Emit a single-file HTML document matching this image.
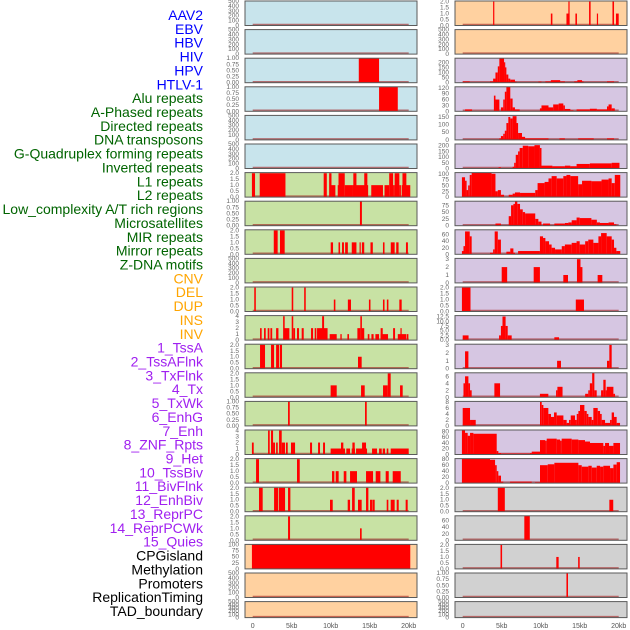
<!DOCTYPE html>
<html><head><meta charset="utf-8">
<style>
html,body{margin:0;padding:0;background:#fff;}
svg{display:block;font-family:"Liberation Sans",sans-serif;}
</style></head>
<body>
<svg id="chart" width="630" height="630" viewBox="0 0 630 630" xmlns="http://www.w3.org/2000/svg"></svg>
<script>
const labels = ["AAV2","EBV","HBV","HIV","HPV","HTLV-1","Alu repeats","A-Phased repeats","Directed repeats","DNA transposons","G-Quadruplex forming repeats","Inverted repeats","L1 repeats","L2 repeats","Low_complexity A/T rich regions","Microsatellites","MIR repeats","Mirror repeats","Z-DNA motifs","CNV","DEL","DUP","INS","INV","1_TssA","2_TssAFlnk","3_TxFlnk","4_Tx","5_TxWk","6_EnhG","7_Enh","8_ZNF_Rpts","9_Het","10_TssBiv","11_BivFlnk","12_EnhBiv","13_ReprPC","14_ReprPCWk","15_Quies","CPGisland","Methylation","Promoters","ReplicationTiming","TAD_boundary"];
const groups = ["virus","virus","virus","virus","virus","virus","repeat","repeat","repeat","repeat","repeat","repeat","repeat","repeat","repeat","repeat","repeat","repeat","repeat","sv","sv","sv","sv","sv","state","state","state","state","state","state","state","state","state","state","state","state","state","state","state","genomic","genomic","genomic","genomic","genomic"];
const xTicks = [0,5,10,15,20];
const xTickLabels = ["0","5kb","10kb","15kb","20kb"];
const T500=[0,100,200,300,400,500], T2=[0,0.5,1,1.5,2], T1=[0,0.25,0.5,0.75,1];
const T2L=["0.0","0.5","1.0","1.5","2.0"], T1L=["0.00","0.25","0.50","0.75","1.00"];
const yMax = [500,500,1,1,500,500,2.05,1,2.05,500,2.05,4.1,2.05,2.05,1,4.1,2.05,2.05,2.05,100,500,500,
 2.05,500,240,125,160,215,105,90,75,3.1,2.05,13,3.1,7,8.2,85,82,2.05,75,2.05,1,500];
const yTicks = [T500,T500,T1,T1,T500,T500,T2,T1,T2,T500,T2,[0,1,2,3,4],T2,T2,T1,[0,1,2,3,4],T2,T2,T2,[0,25,50,75,100],T500,T500,
 T2,T500,[0,50,100,150,200],[0,30,60,90,120],[0,50,100,150],[0,50,100,150,200],[0,25,50,75,100],[0,25,50,75],[0,20,40,60],[0,1,2,3],T2,[0,2.5,5,7.5,10,12.5],[0,1,2,3],[0,2,4,6],[0,2,4,6,8],[0,20,40,60,80],[0,20,40,60,80],T2,[0,20,40,60],T2,T1,T500];
const bars = [
 [],[],[[13.6,16.2,1]],[[16.2,18.6,1]],[],[],
 [[-0.1,0.3,2],[0.9,4.2,2],[9.1,9.5,2],[9.8,10.1,2],[10.1,10.6,1],[10.9,11.0,1],[11.0,11.8,2],[11.8,12.8,1],[12.9,13.3,2],[12.8,14.8,1],[14.3,14.7,2],[15.2,16.7,1],[16.9,17.5,1],[17.5,18.0,2],[18.0,18.2,1],[18.2,18.8,2],[18.8,19.0,1],[19.2,19.7,2],[19.1,20.2,1]],
 [[13.75,14.0,1]],
 [[2.7,3.2,2],[3.5,4.1,2],[10.0,10.3,1],[11.0,11.2,1],[11.45,11.7,1],[11.85,12.2,1],[12.7,13.3,1],[13.7,13.85,1],[14.0,14.3,1],[15.1,15.4,1],[16.7,16.9,1],[17.7,18.2,1],[18.4,18.7,1],[19.65,19.9,1]],
 [],
 [[0.2,0.4,2],[5.0,5.2,2],[6.6,6.8,2],[10.4,10.6,1],[12.2,12.6,1],[14.9,15.1,1],[16.7,16.9,1],[17.2,17.4,1],[18.8,19.1,1]],
 [[0.94,1.15,2],[1.45,1.67,2],[1.92,2.14,2],[2.27,2.5,2],[3.0,3.3,2],[3.9,4.1,4],[4.0,4.7,2],[5.0,5.2,4],[5.2,5.43,2],[5.68,5.94,2],[6.28,6.54,2],[7.48,7.74,2],[7.95,8.16,2],[8.25,8.98,2],[8.9,9.15,4],[9.0,9.6,2],[9.87,10.77,1],[11.24,11.41,1],[12.14,12.35,1],[13.42,13.8,2],[13.8,14.0,4],[13.97,14.3,2],[14.75,14.96,1],[15.22,15.5,1],[15.73,16.2,1],[16.4,16.67,2],[16.4,17.35,1],[18.0,18.25,2],[18.6,19.67,1],[18.94,19.1,2],[19.74,19.96,1]],
 [[0.94,1.58,2],[2.35,2.74,2],[3.0,3.4,2],[3.5,3.76,2],[13.5,13.97,1]],
 [[9.99,10.77,1],[13.89,14.36,1],[16.71,17.31,1],[17.31,17.69,2],[18.89,19.23,1]],
 [[4.53,4.75,2],[14.4,14.62,1]],
 [[-0.1,0.13,2],[1.97,2.18,4],[2.35,2.61,4],[2.61,2.86,2],[3.0,3.21,2],[3.38,3.72,4],[3.72,4.15,2],[4.27,4.49,2],[4.91,5.43,2],[7.35,7.61,2],[8.38,8.63,2],[9.02,9.27,2],[9.99,11.84,1],[11.32,11.62,2],[12.0,12.48,1],[12.78,13.08,2],[12.69,13.12,1],[13.25,14.66,1],[14.02,14.53,2],[15.3,15.94,1],[16.2,16.54,1],[16.67,16.97,1],[17.18,17.39,1],[17.69,20.0,1]],
 [[0.43,0.81,2],[5.68,6.03,2],[10.17,10.47,1],[10.64,11.02,1],[11.67,12.01,1],[12.48,13.37,1],[14.53,15.43,1],[15.77,16.37,1],[17.05,17.44,1],[17.95,18.98,1]],
 [[0.81,1.28,2],[2.74,3.25,2],[3.34,4.15,2],[4.53,4.83,2],[12.74,13.08,2],[14.53,14.83,2],[9.91,10.26,1],[12.18,12.48,1],[13.5,13.97,1],[15.04,15.3,1],[15.34,15.64,1],[17.18,17.39,1],[17.69,18.2,1],[18.46,18.72,1],[19.61,19.87,1]],
 [[4.53,4.79,2],[13.76,13.97,1]],
 [[-0.1,20.2,100]],
 [],[],
 [[3.9,4.05,2],[11.3,11.5,1],[13.3,13.7,1],[13.55,13.7,2],[14.45,14.65,1],[16.2,16.4,2],[17.2,17.35,1],[19.2,19.4,2],[19.65,20.0,1]],
 [],
 [[0,0.9,12],[3.5,3.9,12],[3.9,4.2,40],[4.2,4.5,100],[4.5,4.7,160],[4.7,5.3,250],[5.3,5.4,200],[5.4,5.6,150],[5.6,5.85,80],[5.85,6.1,40],[6.1,6.7,30],[6.7,6.9,10],[9.7,10.1,10],[10.6,11.3,12],[11.3,12.5,25],[12.5,13.1,12],[14.3,14.7,12],[14.7,15.3,25],[15.3,15.5,12],[18.5,19.4,12]],
 [[0.3,1.2,10],[4.0,4.2,80],[4.2,4.7,60],[4.9,5.2,20],[5.2,5.4,60],[5.4,5.6,100],[5.6,6.1,125],[6.1,6.4,65],[6.4,6.7,20],[6.7,7.3,10],[9.9,10.1,15],[10.1,11.0,30],[11.0,11.6,20],[11.6,12.3,35],[12.3,12.9,40],[12.9,13.1,30],[13.1,13.8,12],[13.8,14.2,5],[14.6,16.3,10],[16.3,17.2,13],[17.2,18.5,10],[18.5,18.7,25],[18.7,19.1,35],[19.1,19.5,15]],
 [[4.7,4.9,10],[4.9,5.2,25],[5.2,5.4,40],[5.4,5.6,60],[5.6,5.85,110],[5.85,6.1,150],[6.1,6.4,140],[6.4,6.9,155],[6.9,7.1,110],[7.1,7.6,45],[7.6,8.0,20],[8.0,11.0,10],[12.4,13.1,10],[14.8,16.8,10],[18.5,19.4,10]],
 [[4.6,4.9,10],[6.4,6.6,15],[6.6,6.8,50],[6.8,7.1,120],[7.1,7.3,150],[7.3,7.7,180],[7.7,8.4,200],[8.4,9.2,195],[9.2,9.9,205],[9.9,10.1,180],[10.1,11.5,25],[11.5,13.1,20],[13.1,13.8,25],[13.8,14.6,20],[14.6,16.3,40],[16.3,19.1,45],[19.1,20.1,50]],
 [[-0.1,0.3,85],[0.3,0.5,70],[0.5,0.7,30],[0.7,0.9,50],[0.9,1.15,95],[1.15,3.7,105],[3.7,4.2,100],[4.2,4.5,25],[4.5,4.9,30],[4.9,5.3,10],[5.9,6.4,10],[6.4,6.7,15],[6.7,7.35,20],[7.35,9.3,18],[9.3,9.6,30],[9.6,10.5,60],[10.5,11.0,65],[11.0,11.4,80],[11.4,12.05,90],[12.05,12.9,80],[12.9,13.3,90],[13.3,13.8,95],[13.8,14.8,90],[14.8,15.3,55],[15.3,16.5,70],[16.5,17.8,68],[17.8,18.7,75],[18.7,19.1,80],[19.1,19.5,60],[19.5,20.2,95]],
 [[4.2,4.9,8],[5.9,6.2,35],[6.2,6.5,75],[6.5,6.7,80],[6.7,7.0,90],[7.0,7.35,80],[7.35,7.7,60],[7.7,8.0,50],[8.0,9.3,45],[9.3,9.7,25],[9.7,10.1,15],[10.3,11.2,8],[11.75,13.1,8],[13.1,13.55,10],[13.55,13.97,12],[13.97,14.6,20],[14.6,15.0,30],[15.0,16.5,28],[16.5,17.2,22],[17.2,17.6,12],[17.6,18.7,10],[18.7,19.4,12],[19.4,19.7,5]],
 [[-0.1,0.1,10],[0.1,0.3,25],[0.3,0.9,70],[0.9,1.15,55],[3.5,3.9,5],[3.9,4.1,15],[4.1,4.5,70],[4.5,4.9,45],[5.6,6.1,8],[6.1,6.5,18],[6.5,6.7,5],[7.1,9.9,10],[9.9,10.3,55],[10.3,10.6,50],[10.6,11.07,40],[11.07,11.4,30],[11.4,11.84,20],[11.84,12.7,15],[12.7,13.1,25],[13.1,13.97,30],[13.97,14.6,35],[14.6,15.0,40],[15.0,15.7,30],[15.7,16.1,40],[16.1,16.75,45],[16.75,17.4,35],[17.4,17.74,55],[17.74,18.46,65],[18.46,19.1,55],[19.1,19.4,45],[19.4,19.7,20],[19.7,20.2,10]],
 [[5.0,5.7,2],[9.1,9.9,2],[12.9,13.5,1],[14.65,15.1,3],[15.1,15.35,2],[17.3,17.9,1]],
 [[-0.1,1.0,2],[14.5,15.55,1]],
 [[0,0.75,2.5],[4.66,4.9,2.5],[4.9,5.1,7.5],[5.1,5.5,12.5],[5.5,5.77,7.5],[5.77,6.28,2.5],[11.75,12.35,1.5]],
 [[0.3,0.73,2.2],[12.1,12.6,1],[18.5,18.8,1],[18.8,19.1,3]],
 [[0.1,0.3,4],[0.3,0.73,6],[0.73,0.94,4],[0.94,1.15,2],[4.06,4.79,4],[9.9,10.98,1],[11.97,12.14,2],[12.14,12.8,3],[15.7,16.1,1],[16.1,16.3,2],[16.3,16.6,4],[16.6,16.88,7],[16.88,17.18,2],[17.74,18.03,2],[18.03,18.33,5],[18.33,18.46,2],[18.46,19.32,3],[19.32,19.53,1]],
 [[0,0.94,6],[0.94,1.67,2],[9.91,10.13,8],[10.13,10.34,7],[10.34,10.98,6],[10.98,11.32,4],[11.32,11.71,3],[11.71,12.05,4.5],[12.05,12.91,3.5],[12.91,13.33,2],[13.33,13.63,1],[13.63,13.85,2],[13.85,14.4,3.5],[14.4,14.62,2],[14.62,14.83,4],[14.83,15.04,5],[15.04,15.6,7],[15.6,15.9,5],[15.9,16.11,4],[16.11,16.54,3],[16.54,16.75,2],[16.75,17.31,6],[17.31,17.61,5],[17.61,17.82,4],[17.82,18.25,2],[18.25,18.89,1],[18.89,19.1,2],[19.1,19.4,4.5],[19.4,19.74,3],[19.74,20.17,1]],
 [[-0.1,0.3,85],[0.3,0.64,75],[0.64,0.94,65],[0.94,1.37,75],[1.37,4.36,72],[4.36,4.57,12],[4.57,4.91,5],[4.91,8.63,3],[8.63,8.85,5],[8.85,9.91,10],[9.91,10.56,50],[10.56,10.77,48],[10.77,12.05,55],[12.05,12.48,52],[12.48,12.69,48],[12.69,13.97,55],[13.97,14.83,52],[14.83,15.68,50],[15.68,16.32,45],[16.32,18.03,40],[18.03,18.25,30],[18.25,18.76,40],[18.76,19.32,30],[19.32,20.17,40]],
 [[-0.1,3.5,82],[3.5,4.15,78],[4.15,4.36,60],[4.36,4.57,40],[4.57,4.91,25],[4.91,5.21,5],[6.07,8.85,5],[9.27,9.91,3],[9.91,10.9,60],[10.9,11.75,63],[11.75,14.83,68],[14.83,15.26,60],[15.26,16.11,55],[16.11,16.54,58],[16.54,17.18,52],[17.18,17.61,58],[17.61,18.03,55],[18.03,18.89,58],[18.89,19.32,50],[19.32,19.74,62],[19.74,20.17,70]],
 [[4.5,5.4,2],[18.8,19.3,1]],
 [[7.9,8.6,75]],
 [[4.85,5.05,2],[12.0,12.3,1],[14.8,15.0,1]],
 [[13.3,13.5,1]],
 []
];

const NS="http://www.w3.org/2000/svg";
const svg=document.getElementById('chart');
const labelColor={virus:"#0000ff",repeat:"#006400",sv:"#ffa500",state:"#a020f0",genomic:"#000000"};
const bgColor={virus:"#c8e4ec",repeat:"#c8e2a4",sv:"#ffd1a0",state:"#d6c6e2",genomic:"#d1d1d1"};
function mk(tag,attrs,parent){const e=document.createElementNS(NS,tag);for(const k in attrs)e.setAttribute(k,attrs[k]);(parent||svg).appendChild(e);return e;}
function fmt(t,ticks){
  if(ticks===T2) return T2L[ticks.indexOf(t)];
  if(ticks===T1) return T1L[ticks.indexOf(t)];
  if(ticks.indexOf(12.5)>=0) return t.toFixed(1);
  return String(t);
}

// labels
labels.forEach((lab,i)=>{
  const t=mk('text',{x:203,y:15+i*13.86+5,'text-anchor':'end','font-size':14,fill:labelColor[groups[i]]});
  
  
  t.textContent=lab;
});

for(let i=0;i<44;i++){
  const col=i<22?0:1, row=i%22;
  const px=col?455:245, pw=172;
  const top=1+row*28.6, h=(row===21)?16:24.5;
  const x0=px+7.7;
  const xs=kb=>x0+kb*7.8;
  const ys=v=>top+h-Math.min(v,yMax[i])/yMax[i]*h;
  const g=mk('g',{});
  
  
  const bg=mk('rect',{x:px,y:top,width:pw,height:h,fill:bgColor[groups[i]]},g);
  
  
  const base=mk('line',{x1:xs(0),x2:xs(20),y1:top+h-1,y2:top+h-1,stroke:'rgba(160,30,30,0.6)','stroke-width':1.5},g);
  
  
  bars[i].forEach(b=>{
    const r=mk('rect',{x:xs(b[0]),y:ys(b[2]),width:Math.max(1.2,xs(b[1])-xs(b[0])),height:top+h-ys(b[2]),fill:'#ff0000'},g);
    
    
  });
  const br=mk('rect',{x:px,y:top,width:pw,height:h,fill:'none',stroke:'#5a5a5a','stroke-width':1},g);
  
  
  yTicks[i].forEach(t=>{
    const tx=mk('text',{x:px-6,y:ys(t)+2,'text-anchor':'end','font-size':6.5,fill:'#666'},g);
    
    
    tx.textContent=fmt(t,yTicks[i]);
  });
}
// x-axis labels
[245,455].forEach(px=>{
  xTicks.forEach((k,j)=>{
    const t=mk('text',{x:px+7.7+k*7.8,y:628,'text-anchor':'middle','font-size':7,fill:'#555'});
    
    
    t.textContent=xTickLabels[j];
  });
});
</script>
</body></html>
